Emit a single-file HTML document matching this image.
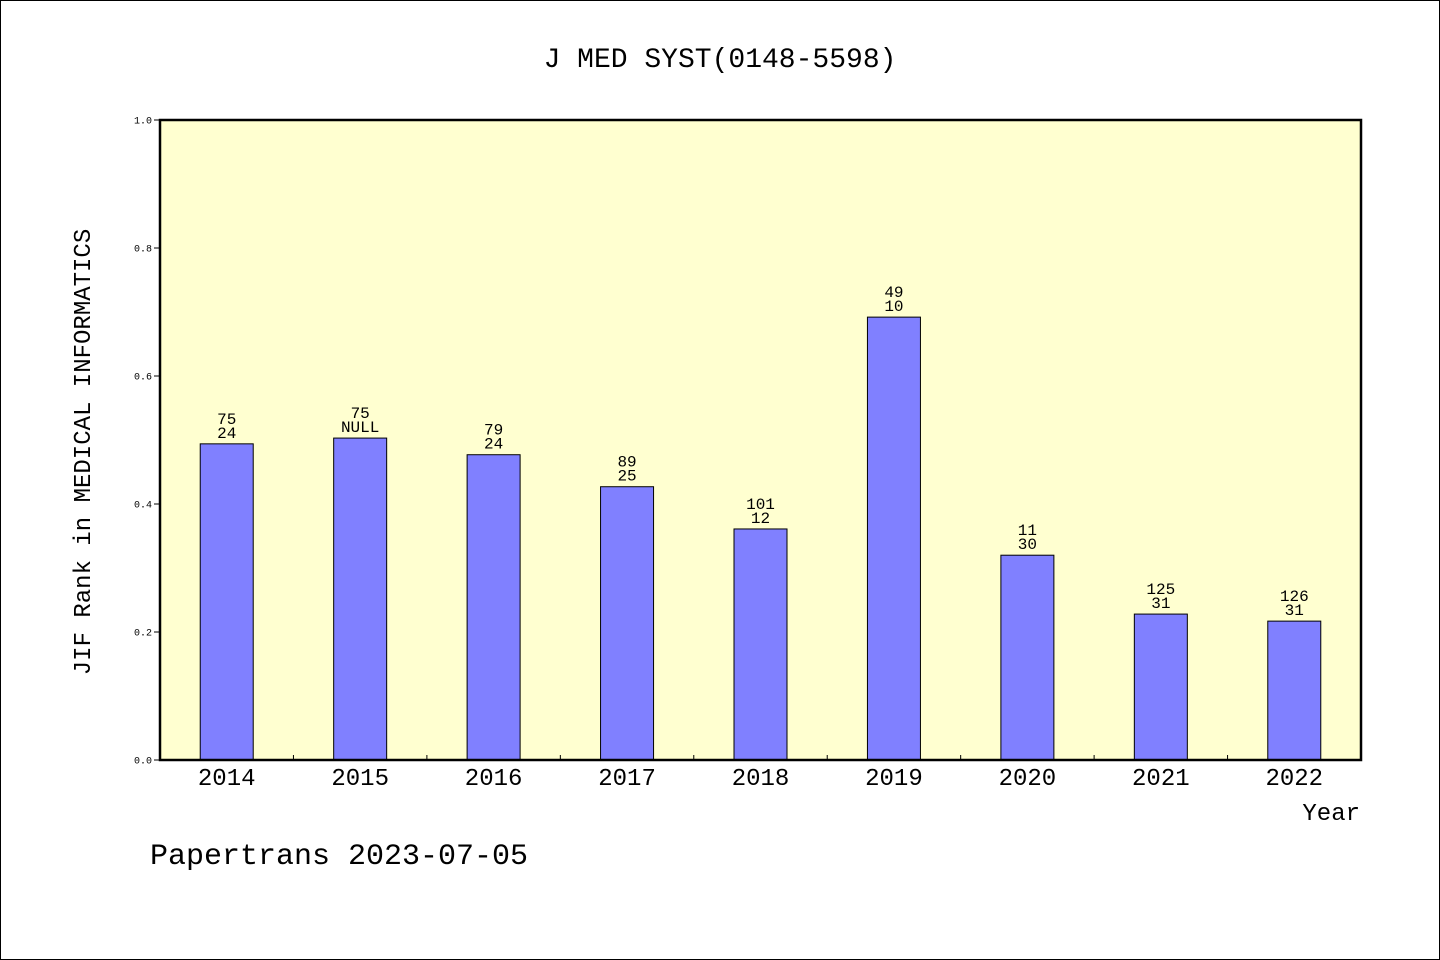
<!DOCTYPE html>
<html><head><meta charset="utf-8"><style>
body{margin:0;background:#fff}
svg{display:block}
text{font-family:"WenQuanYi Zen Hei","Liberation Mono",monospace;fill:#000}
</style></head><body>
<svg width="1440" height="960" viewBox="0 0 1440 960">
<rect x="0.5" y="0.5" width="1439" height="959" fill="#fff" stroke="#000"/>
<text x="720" y="67" font-size="28" text-anchor="middle">J MED SYST(0148-5598)</text>
<rect x="160" y="120" width="1201" height="640" fill="#ffffd0"/>
<g id="bars"></g>
<g id="yaxis"></g>
<g id="xaxis"></g>
<rect x="160" y="120" width="1201" height="640" fill="none" stroke="#000" stroke-width="2.5"/>
<text transform="translate(90,452) rotate(-90)" font-size="24" text-anchor="middle">JIF Rank in MEDICAL INFORMATICS</text>
<text x="1360" y="820" font-size="24" text-anchor="end">Year</text>
<text x="150" y="864" font-size="30">Papertrans 2023-07-05</text>
</svg>
<script>
const categories=["2014","2015","2016","2017","2018","2019","2020","2021","2022"];
const values=[0.494,0.503,0.477,0.427,0.361,0.692,0.320,0.228,0.217];
const labelTop=["75","75","79","89","101","49","11","125","126"];
const labelBottom=["24","NULL","24","25","12","10","30","31","31"];
const yTicks=[0,0.2,0.4,0.6,0.8,1.0];
const NS="http://www.w3.org/2000/svg";
const X0=160,X1=1361,Y0=760,Y1=120;
const band=(X1-X0)/categories.length;
const xc=i=>X0+band*(i+0.5);
const y=v=>Y0-(v)*(Y0-Y1);
function mk(tag,attrs,parent,txt){const e=document.createElementNS(NS,tag);for(const k in attrs)e.setAttribute(k,attrs[k]);if(txt!=null)e.textContent=txt;parent.appendChild(e);return e;}
const gb=document.getElementById('bars'),gy=document.getElementById('yaxis'),gx=document.getElementById('xaxis');
const bw=53;
categories.forEach((c,i)=>{
  const r=mk('rect',{x:xc(i)-bw/2,y:y(values[i]),width:bw,height:Y0-y(values[i]),fill:'#8080ff',stroke:'#000','stroke-width':1},gb);
  
  
  const t1=mk('text',{x:xc(i),y:y(values[i])-20,'font-size':16,'text-anchor':'middle'},gb,labelTop[i]);
  
  
  const t2=mk('text',{x:xc(i),y:y(values[i])-6,'font-size':16,'text-anchor':'middle'},gb,labelBottom[i]);
  
  
  const xl=mk('text',{x:xc(i),y:785,'font-size':24,'text-anchor':'middle'},gx,c);
  
  
  if(i>0){const tk=mk('line',{x1:X0+band*i,x2:X0+band*i,y1:Y0,y2:Y0-5,stroke:'#000'},gx);
  
  }
});
yTicks.forEach(v=>{
  const l=mk('line',{x1:X0-6,x2:X0,y1:y(v),y2:y(v),stroke:'#000'},gy);
  
  
  const t=mk('text',{x:X0-8,y:y(v)+3.5,'font-size':10,'text-anchor':'end'},gy,v.toFixed(1));
  
  
});
</script>
</body></html>
